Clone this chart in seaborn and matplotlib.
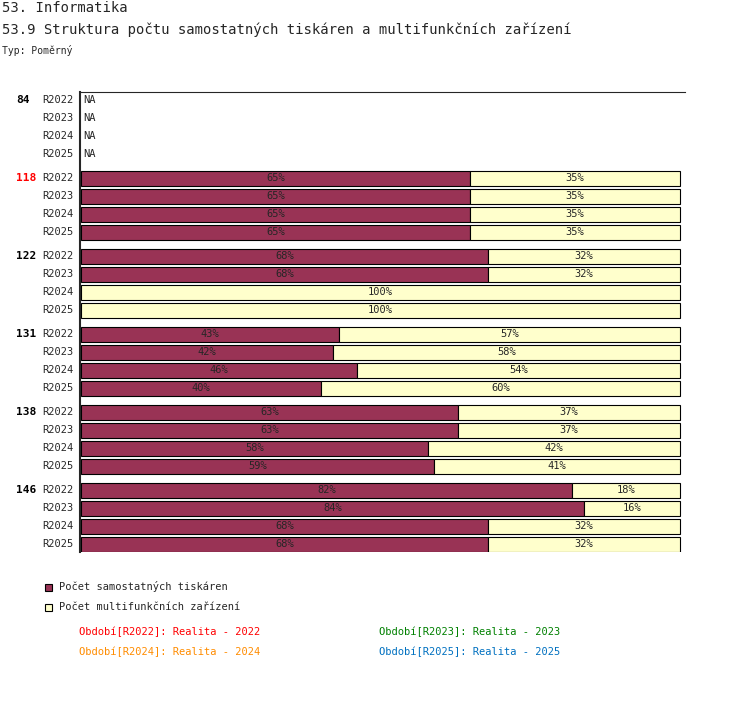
import matplotlib
matplotlib.use("Agg")
import matplotlib.pyplot as plt
import seaborn as sns
import numpy as np

sns.set_style("white")
plt.rcParams['font.family'] = ['DejaVu Sans Mono']

groups = ['84', '118', '122', '131', '138', '146']
periods = ['R2022', 'R2023', 'R2024', 'R2025']
# share of standalone printers (%), None = NA
samostatne = [
    [None, None, None, None],
    [65, 65, 65, 65],
    [68, 68, 0, 0],
    [43, 42, 46, 40],
    [63, 63, 58, 59],
    [82, 84, 68, 68],
]
multifunkcni = [
    [None, None, None, None],
    [35, 35, 35, 35],
    [32, 32, 100, 100],
    [57, 58, 54, 60],
    [37, 37, 42, 41],
    [18, 16, 32, 32],
]

purple = '#993355'
yellow = '#ffffcc'

fig = plt.figure(figsize=(7.5, 7.1), dpi=100)
ax = fig.add_axes([80/750, (710-552)/710, (685-80)/750, (552-92)/710])
sc = 599/100
ax.set_xlim(-1/sc, 100 + 5/sc)
ax.set_ylim(552, 92)
for s in ['right', 'bottom']:
    ax.spines[s].set_visible(False)
ax.spines['left'].set_linewidth(1.5)
ax.set_xticks([])
ax.set_yticks([])

fs = 7.5
for j, g in enumerate(groups):
    y0 = 100 + j*78
    fig.text(16/750, 1 - y0/710, g, fontsize=8, fontweight='bold',
             color='red' if g == '118' else 'black', va='center')
    for i, p in enumerate(periods):
        y = y0 + i*18
        ax.text(-1.3, y, p, fontsize=fs, ha='right', va='center', clip_on=False)
        a, b = samostatne[j][i], multifunkcni[j][i]
        if a is None:
            ax.text(0.4, y, 'NA', fontsize=fs, va='center')
            continue
        if a > 0:
            ax.barh(y, a, height=15, color=purple, edgecolor='black', linewidth=0.8)
            ax.text(a/2, y, f'{a}%', fontsize=fs, ha='center', va='center')
        ax.barh(y, b, left=a, height=15, color=yellow, edgecolor='black', linewidth=0.8)
        ax.text(a + b/2, y, f'{b}%', fontsize=fs, ha='center', va='center')

fig.text(2/750, 1 - 8/710, '53. Informatika', fontsize=10, va='center')
fig.text(2/750, 1 - 30/710, '53.9 Struktura počtu samostatných tiskáren a multifunkčních zařízení',
         fontsize=10, va='center')
fig.text(2/750, 1 - 50/710, 'Typ: Poměrný', fontsize=7, va='center')

for k, (lab, col) in enumerate([('Počet samostatných tiskáren', purple),
                                 ('Počet multifunkčních zařízení', yellow)]):
    yy = 587 + k*20
    fig.patches.append(plt.Rectangle((45/750, 1 - (yy+4)/710), 7/750, 7/710,
                                     transform=fig.transFigure, facecolor=col,
                                     edgecolor='black', linewidth=0.8))
    fig.text(59/750, 1 - yy/710, lab, fontsize=fs, va='center')

footer = [('Období[R2022]: Realita - 2022', 'red', 79, 632),
          ('Období[R2023]: Realita - 2023', 'green', 379, 632),
          ('Období[R2024]: Realita - 2024', 'darkorange', 79, 652),
          ('Období[R2025]: Realita - 2025', '#0070c0', 379, 652)]
for t, c, x, y in footer:
    fig.text(x/750, 1 - y/710, t, fontsize=fs, color=c, va='center')

fig.savefig('out.png', dpi=100)
